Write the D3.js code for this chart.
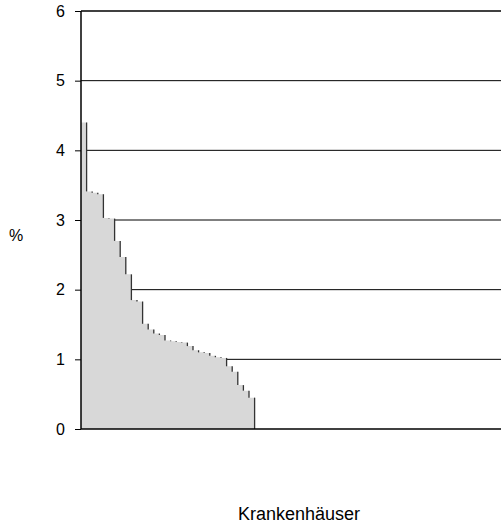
<!DOCTYPE html>
<html>
<head>
<meta charset="utf-8">
<script src="https://cdn.jsdelivr.net/npm/d3@7"></script>
<style>
  body { margin: 0; background: #fff; }
  text { font-family: "Liberation Sans", Arial, sans-serif; }
</style>
</head>
<body>
<div id="chart"></div>
<script>
// share per hospital (%), sorted descending
const values = [
  4.40, 3.41, 3.39, 3.37, 3.03, 3.02, 2.70, 2.47, 2.22, 1.85,
  1.83, 1.51, 1.43, 1.37, 1.35, 1.27, 1.26, 1.25, 1.24, 1.19,
  1.13, 1.10, 1.09, 1.05, 1.03, 1.02, 0.90, 0.82, 0.63, 0.55,
  0.45
];
const hospitalCount = 75;
const yTicks = [0, 1, 2, 3, 4, 5, 6];
const yLabel = "%";
const xLabel = "Krankenhäuser";

const width = 501, height = 526;
const margin = { top: 11, right: 0, bottom: 97, left: 81 };

const svg = d3.select("#chart").append("svg")
  .attr("width", width)
  .attr("height", height);

const x = d3.scaleBand()
  .domain(d3.range(hospitalCount + 1))
  .range([margin.left, width - margin.right + (width - margin.left) / hospitalCount])
  .padding(0);

const y = d3.scaleLinear()
  .domain([0, 6])
  .range([height - margin.bottom, margin.top]);

// gridlines
svg.append("g")
  .selectAll("line")
  .data(yTicks.filter(d => d > 0))
  .enter()
  .append("line")
  .attr("x1", margin.left)
  .attr("x2", width - margin.right)
  .attr("y1", d => y(d))
  .attr("y2", d => y(d))
  .attr("stroke", "#000")
  .attr("stroke-width", d => d === 6 ? 1.6 : 1);

// bars as one stepped area (no seams between neighbours)
const stepPts = values.map((d, i) => [i, d]);
stepPts.push([values.length, values[values.length - 1]]);

const area = d3.area()
  .x(d => x(d[0]))
  .y0(y(0))
  .y1(d => y(d[1]))
  .curve(d3.curveStepAfter);

svg.append("path")
  .datum(stepPts)
  .attr("d", area)
  .attr("fill", "#d8d8d8");

// dark edge on the right of each step
svg.append("g")
  .selectAll("line")
  .data(values)
  .enter()
  .append("line")
  .attr("x1", (d, i) => x(i) + x.bandwidth())
  .attr("x2", (d, i) => x(i) + x.bandwidth())
  .attr("y1", d => y(d))
  .attr("y2", (d, i) => y(i + 1 < values.length ? values[i + 1] : 0))
  .attr("stroke", "#333")
  .attr("stroke-width", 1.3);

// y axis
const yAxis = d3.axisLeft(y)
  .tickValues(yTicks)
  .tickFormat(d3.format("d"))
  .tickSize(6)
  .tickPadding(10);

const ya = svg.append("g")
  .attr("transform", `translate(${margin.left},0)`)
  .call(yAxis);
ya.select(".domain").remove();
ya.selectAll(".tick line").attr("stroke", "#000");
ya.selectAll(".tick text")
  .attr("fill", "#000")
  .style("font-size", "16px")
  .style("font-family", "Liberation Sans, Arial, sans-serif");

svg.append("line")
  .attr("x1", margin.left).attr("x2", margin.left)
  .attr("y1", y(6)).attr("y2", y(0))
  .attr("stroke", "#000").attr("stroke-width", 1.5);

// x axis line
svg.append("line")
  .attr("x1", margin.left).attr("x2", width - margin.right)
  .attr("y1", y(0)).attr("y2", y(0))
  .attr("stroke", "#000").attr("stroke-width", 1.5);

// axis titles
svg.append("text")
  .attr("x", 16)
  .attr("y", 241)
  .attr("text-anchor", "middle")
  .style("font-size", "16px")
  .text(yLabel);

svg.append("text")
  .attr("x", 299)
  .attr("y", 520)
  .attr("text-anchor", "middle")
  .style("font-size", "18px")
  .text(xLabel);
</script>
</body>
</html>
